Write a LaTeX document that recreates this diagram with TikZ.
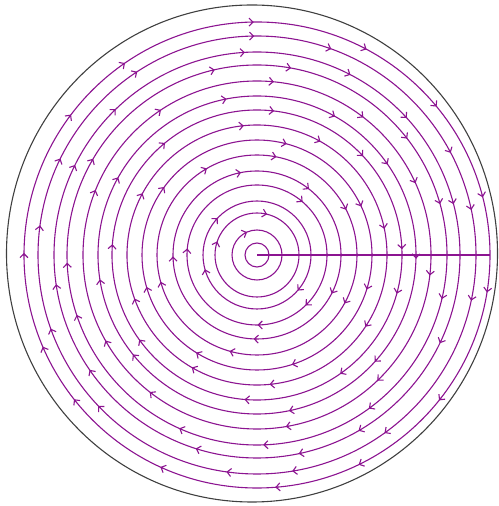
\documentclass[tikz,border=0pt]{standalone}
\usetikzlibrary{arrows.meta}
\definecolor{streamc}{RGB}{140,20,145}
\begin{document}
\begin{tikzpicture}[x=1pt,y=1pt,
  stream/.style={streamc, line width=1.1pt},
  tipline/.style={stream,-{Straight Barb[length=4pt,width=8pt]}},
  rim/.style={black!75, line width=1.1pt}]
\useasboundingbox (0,0) rectangle (498,506);
\coordinate (c) at (257,251);
\coordinate (e) at (490,251);
\coordinate (o) at (252,252.5);
\draw[rim] (o) ellipse[x radius=245.5, y radius=248.5];
\pgfmathsetseed{12}
\foreach \r in {12,25,42,54,70,84,100,115,130,145,159,174,190,203,219,233}{
  \draw[stream] (c) circle[radius=\r];
  \pgfmathtruncatemacro{\n}{\r<20 ? 0 : max(1,round(\r/17))}
  \ifnum\n>0
    \pgfmathsetmacro{\ph}{rnd*360}
    \pgfmathsetmacro{\dl}{3/\r*57.3}
    \foreach \k in {1,...,\n}{
      \pgfmathsetmacro{\th}{\ph+\k*360/\n+(rnd-0.5)*0.6*360/\n}
      \draw[tipline] (c) ++(\th+\dl:\r) arc[start angle=\th+\dl, end angle=\th, radius=\r];
    }
  \fi
}
\draw[stream] (c) -- (e);
\end{tikzpicture}
\end{document}
